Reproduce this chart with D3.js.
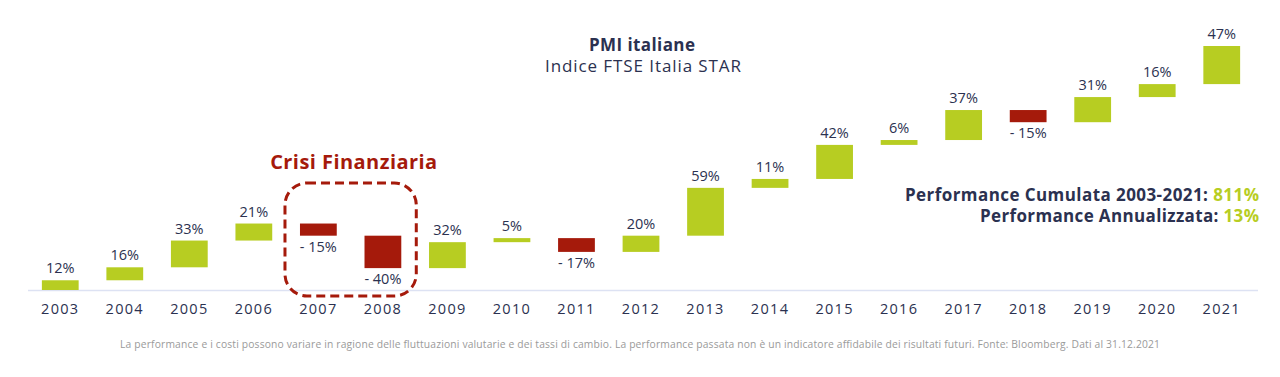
<!DOCTYPE html>
<html><head><meta charset="utf-8">
<script src="https://cdn.jsdelivr.net/npm/d3@7"></script>
<style>body{margin:0;background:#fff}svg{display:block}</style>
</head><body>
<svg id="c" width="1280" height="377"></svg>
<script>
const years = ["2003","2004","2005","2006","2007","2008","2009","2010","2011","2012","2013","2014","2015","2016","2017","2018","2019","2020","2021"];
const returns = [12,16,33,21,-15,-40,32,5,-17,20,59,11,42,6,37,-15,31,16,47];
const title = "PMI italiane";
const subtitle = "Indice FTSE Italia STAR";
const crisisLabel = "Crisi Finanziaria";
const crisisYears = ["2007","2008"];
const summary = [["Performance Cumulata 2003-2021: ","811%"],["Performance Annualizzata: ","13%"]];
const footnote = "La performance e i costi possono variare in ragione delle fluttuazioni valutarie e dei tassi di cambio. La performance passata non è un indicatore affidabile dei risultati futuri. Fonte: Bloomberg. Dati al 31.12.2021";

const GREEN="#b7cd22", RED="#a51a0b", NAVY="#2b3150";
const FONT="'Open Sans','Noto Sans',sans-serif";

// waterfall steps
let run=0;
const steps = years.map((y,i)=>{const s=run; run+=returns[i]; return {year:y,v:returns[i],start:s,end:run};});

const svg=d3.select("#c");
const x=d3.scaleBand().domain(years).range([28,1254]).paddingInner(0.43).paddingOuter(0.215);
const y=d3.scaleLinear().domain([0,d3.max(steps,d=>Math.max(d.start,d.end))]).range([290,46]);

// axis line
svg.append("line").attr("x1",28).attr("x2",1258).attr("y1",290.5).attr("y2",290.5).attr("stroke","#dde2f3").attr("stroke-width",1.5);

// axis labels
const ax=d3.axisBottom(x).tickSize(0).tickPadding(14);
const g=svg.append("g").attr("transform","translate(0,290)").call(ax);
g.select(".domain").remove();
g.selectAll("text").attr("font-family",FONT).attr("font-size",14.5).attr("fill",NAVY).attr("letter-spacing","1.3px");

// bars
svg.selectAll("rect.bar").data(steps).join("rect").attr("class","bar")
 .attr("x",d=>x(d.year)).attr("width",x.bandwidth())
 .attr("y",d=>y(Math.max(d.start,d.end))).attr("height",d=>Math.abs(y(d.start)-y(d.end)))
 .attr("fill",d=>d.v>=0?GREEN:RED);

// value labels
svg.selectAll("text.val").data(steps).join("text").attr("class","val")
 .attr("x",d=>x(d.year)+x.bandwidth()/2)
 .attr("y",d=>d.v>=0? y(d.end)-7 : y(d.end)+16)
 .attr("text-anchor","middle").attr("font-family",FONT).attr("font-size",14.5).attr("fill",NAVY)
 .text(d=>d.v>=0? d.v+"%" : "- "+Math.abs(d.v)+"%");

// title
svg.append("text").attr("x",642).attr("y",51).attr("text-anchor","middle").attr("font-family",FONT).attr("font-weight","700").attr("font-size",17).attr("fill",NAVY)
 .attr("textLength",106).attr("lengthAdjust","spacing").text(title);
svg.append("text").attr("x",643).attr("y",72).attr("text-anchor","middle").attr("font-family",FONT).attr("font-size",17).attr("fill",NAVY)
 .attr("textLength",196).attr("lengthAdjust","spacing").text(subtitle);

// crisis box
const cx0=x(crisisYears[0])-15, cx1=x(crisisYears[1])+x.bandwidth()+15;
svg.append("rect").attr("x",cx0).attr("y",183).attr("width",cx1-cx0).attr("height",113).attr("rx",22)
 .attr("fill","none").attr("stroke",RED).attr("stroke-width",3).attr("stroke-dasharray","9,5");
svg.append("text").attr("x",(cx0+cx1)/2+3).attr("y",169).attr("text-anchor","middle").attr("font-family",FONT).attr("font-weight","700").attr("font-size",20).attr("fill",RED)
 .attr("textLength",167).attr("lengthAdjust","spacing").text(crisisLabel);

// summary
const sumLen=[354,279];
summary.forEach((s,i)=>{
 const t=svg.append("text").attr("x",1259).attr("y",201+i*21).attr("text-anchor","end").attr("font-family",FONT).attr("font-weight","700").attr("font-size",17).attr("fill",NAVY)
  .attr("textLength",sumLen[i]).attr("lengthAdjust","spacing");
 t.append("tspan").text(s[0]);
 t.append("tspan").attr("fill",GREEN).text(s[1]);
});

// footnote
svg.append("text").attr("x",640).attr("y",348).attr("text-anchor","middle").attr("font-family",FONT).attr("font-size",10.3).attr("fill","#9a9a9a")
 .attr("textLength",1040).attr("lengthAdjust","spacing").text(footnote);
</script>
</body></html>
